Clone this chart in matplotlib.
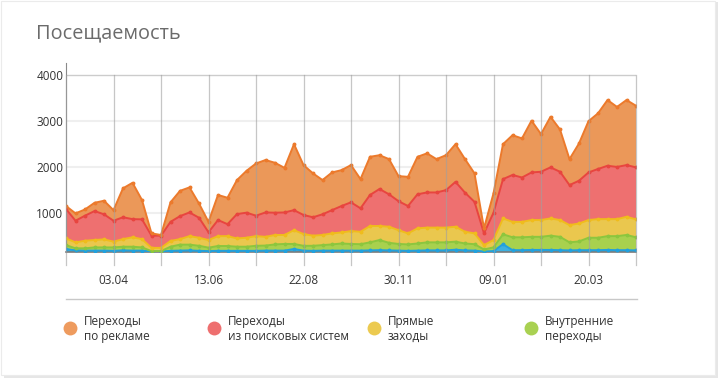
import matplotlib
matplotlib.use("Agg")
import numpy as np
import matplotlib.pyplot as plt
from matplotlib.lines import Line2D
from matplotlib.patches import Rectangle

plt.rcParams['font.family'] = ['Open Sans', 'DejaVu Sans']

# weekly visits by source (stacked bottom -> top)
blue = [225, 195, 190, 190, 190, 185, 195, 190, 190, 170, 170, 185, 190, 195, 185, 180, 185, 185, 185, 185,
        185, 190, 190, 190, 225, 190, 185, 190, 190, 190, 190, 190, 195, 200, 195, 190, 185, 190, 195, 195,
        195, 210, 195, 190, 170, 180, 330, 200, 200, 205, 205, 205, 200, 195, 200, 200, 200, 205, 200, 200, 195]
green = [85, 45, 50, 70, 70, 75, 80, 85, 70, 10, 10, 90, 130, 125, 110, 75, 105, 105, 90, 90,
         110, 110, 135, 145, 110, 105, 110, 120, 135, 155, 145, 140, 175, 220, 165, 145, 140, 155, 175, 175,
         175, 175, 150, 140, 45, 80, 215, 280, 280, 285, 285, 310, 290, 175, 190, 270, 270, 300, 305, 330, 285]
yellow = [145, 130, 165, 160, 175, 125, 165, 205, 180, 70, 70, 125, 120, 185, 175, 165, 215, 215, 180, 195,
          210, 190, 205, 195, 300, 255, 220, 220, 240, 240, 280, 270, 355, 305, 350, 300, 240, 330, 320, 320,
          320, 325, 255, 235, 95, 160, 345, 335, 335, 365, 365, 375, 365, 375, 390, 385, 405, 370, 370, 395, 390]
red = [640, 470, 545, 630, 545, 455, 475, 395, 430, 265, 265, 415, 500, 515, 435, 170, 350, 260, 530, 545,
       445, 530, 485, 490, 435, 415, 400, 450, 505, 575, 625, 510, 675, 805, 705, 630, 595, 740, 765, 765,
       815, 975, 850, 685, 255, 595, 855, 1020, 965, 1035, 1050, 1110, 1050, 870, 930, 1035, 1090, 1160, 1135, 1125, 1130]
orange = [65, 160, 135, 180, 295, 230, 630, 790, 420, 50, 15, 425, 550, 545, 310, 225, 545, 575, 740, 910,
          1135, 1140, 1085, 970, 1435, 1085, 955, 745, 820, 780, 810, 635, 830, 735, 765, 545, 635, 815, 850, 725,
          760, 820, 730, 620, 110, 420, 760, 865, 850, 1125, 820, 1100, 920, 565, 810, 1115, 1210, 1430, 1305, 1415, 1340]

tick_pos = [5, 15, 25, 35, 45, 55]
tick_labels = ['03.04', '13.06', '22.08', '30.11', '09.01', '20.03']
legend_labels = ['Переходы\nпо рекламе', 'Переходы\nиз поисковых систем', 'Прямые\nзаходы', 'Внутренние\nпереходы']

fill_colors = ['#3cb0e0', '#a8d14e', '#eac74e', '#ee7070', '#eb9859']
line_colors = ['#22a0dc', '#8cc63e', '#f0bc1c', '#e8453f', '#ec7a2c']
legend_colors = ['#ee9b5e', '#ee6f6f', '#ecca50', '#a9d152']

series = np.array([blue, green, yellow, red, orange])
x = np.arange(series.shape[1])
tops = np.cumsum(series, axis=0)

fig = plt.figure(figsize=(7.22, 3.85), dpi=100)
W, H = 722, 385

# card frame
fig.patches.append(Rectangle((4 / W, 7 / H), 714 / W, 376 / H, transform=fig.transFigure,
                             facecolor='#e6e6e6', edgecolor='none', zorder=-3))
fig.patches.append(Rectangle((1 / W, 10 / H), 714 / W, 374 / H, transform=fig.transFigure,
                             facecolor='white', edgecolor='#ebebeb', lw=0.8, zorder=-2))

ax = fig.add_axes([66 / W, 1 - 252 / H, 570 / W, 189 / H])
ymin, ymax = 160, 4270
ax.set_xlim(0, 60)
ax.set_ylim(ymin, ymax)

ax.stackplot(x, series, colors=fill_colors, lw=0, zorder=1)
for i in range(5):
    ax.plot(x, tops[i], color=line_colors[i], lw=1.4, marker='o', ms=1.8, zorder=3)

for yv in [1000, 2000, 3000]:
    ax.axhline(yv, color='#efefef', lw=1.5, zorder=0)
ax.axhline(4000, color='#cccccc', lw=1.0, zorder=0)

ytop = (4000 - ymin) / (ymax - ymin)
for xv in range(0, 61, 5):
    ax.axvline(xv, ymin=-13 / 189, ymax=ytop, color='#a0a0a0', lw=0.9, alpha=0.6,
               clip_on=False, zorder=4)

for s in ['top', 'right']:
    ax.spines[s].set_visible(False)
ax.spines['left'].set_color('#8a8a8a')
ax.spines['bottom'].set_color('#7a7a7a')
ax.spines['bottom'].set_linewidth(1.2)
ax.set_yticks([1000, 2000, 3000, 4000])
ax.set_yticklabels(['1000', '2000', '3000', '4000'])
ax.set_xticks(tick_pos)
ax.set_xticklabels(tick_labels)
ax.tick_params(axis='both', length=0, labelsize=8.5, colors='#333333')
ax.tick_params(axis='x', pad=16)
ax.tick_params(axis='y', pad=2)

fig.text(36 / W, 1 - 33 / H, 'Посещаемость', fontsize=14.3, color='#6b6b6b', va='center', ha='left')

fig.add_artist(Line2D([66 / W, 637 / W], [1 - 299 / H, 1 - 299 / H], color='#c8c8c8', lw=1))

legend_x = [70, 214, 374, 531]
for lx, c, lab in zip(legend_x, legend_colors, legend_labels):
    fig.add_artist(Line2D([lx / W], [1 - 328 / H], marker='o', ms=10, color=c, mec='none', ls='none'))
    fig.text((lx + 14) / W, 1 - 329 / H, lab, fontsize=8.5, color='#333333', va='center', ha='left',
             linespacing=1.2)

fig.savefig('out.png', dpi=100)
